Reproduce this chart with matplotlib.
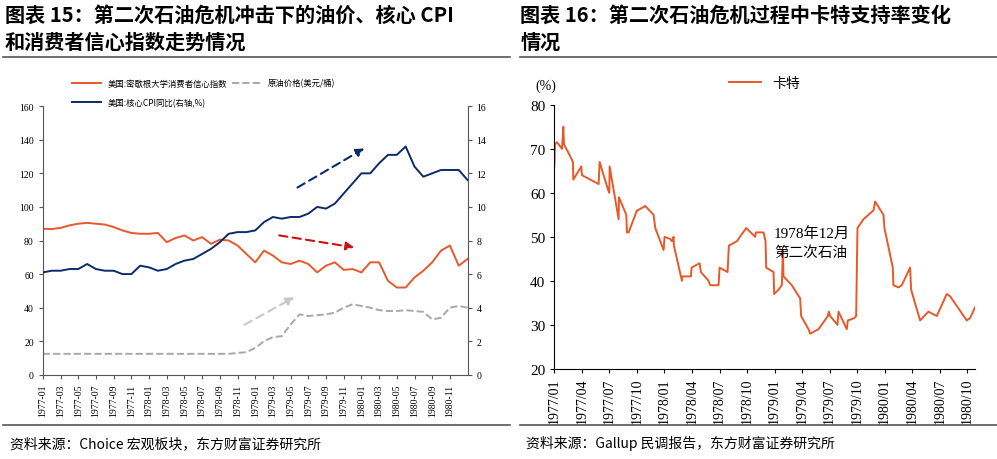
import matplotlib
matplotlib.use("Agg")
import matplotlib.pyplot as plt
import numpy as np
from matplotlib.lines import Line2D

CJK = ['Noto Sans CJK SC', 'DejaVu Sans']
SERIF = ['Liberation Serif', 'Noto Sans CJK SC']

# ---- left chart data (monthly 1977-01 .. 1981-01) ----
months_left = [f"{1977 + i // 12}-{i % 12 + 1:02d}" for i in range(49)]
sentiment = [87, 86.8, 87.5, 89, 90, 90.5, 90, 89.5, 88, 86, 84.5, 84,
             84, 84.5, 79, 81.5, 83, 80, 82, 78, 80.5, 80, 77, 72,
             67, 74, 71, 67, 66, 68, 66, 61, 65, 67, 62.5, 63,
             61, 67, 67, 56, 52, 52, 58, 62, 67, 74, 77, 65, 69]
core_cpi = [6.1, 6.2, 6.2, 6.3, 6.3, 6.6, 6.3, 6.2, 6.2, 6.0, 6.0, 6.5,
            6.4, 6.2, 6.3, 6.6, 6.8, 6.9, 7.2, 7.5, 7.9, 8.4, 8.5, 8.5,
            8.6, 9.1, 9.4, 9.3, 9.4, 9.4, 9.6, 10.0, 9.9, 10.2, 10.8, 11.4,
            12.0, 12.0, 12.6, 13.1, 13.1, 13.6, 12.4, 11.8, 12.0, 12.2, 12.2, 12.2, 11.6]
oil = [12.5] * 22 + [13, 13.5, 16, 20, 22.5, 23, 30, 36, 35, 35.5, 36, 37,
                     40, 42, 41, 40, 38.5, 38, 38, 38.5, 38, 37.5, 33, 34, 40, 41, 40]
left_ticks = months_left[:48:2]

# ---- right chart data (approval, month offset from 1977/01) ----
carter_m_raw = [162,164,170,185,189,191,205,218,219,243,245,270,295,298,322,327,328,355,356,378,380,385,
                410,412,435,460,465,490,493,510,515,520,521,545,546,572,574,598,602,625,630,655,658,682,686,
                710,738,765,767,790,796,798,820,822,835,845,848,850,875,900,903,925,930,955,983,986,990,
                1012,1015,1040,1043,1062,1068,1072,1090,1120,1125,1150,1153,1178,1180,1195,1205,1230,1233,
                1260,1285,1310,1340,1350,1400,1410,1425]
carter_v = [66,71,71.5,70,75,71,69,67,63,66,64,63,62,67,61,60,66,54,59,55,51,51,
            56,56,57,55,52,47,50,49.5,49,50,48,40,41,41,43,44,42,40,39,39,43,42,48,
            49,52,50,51,51,49,43,42,37,38,39,47,41,39,36,32,29,28,29,32,33,32,
            30,33,29,31,31.5,32,52,54,56,58,55,52,43,39,38.5,39,43,38,
            31,33,32,37,36.5,31,31.5,34]
carter_months = [(x - 162) / 27.55 for x in carter_m_raw]
right_ticks = [f"{1977 + i // 12}/{i % 12 + 1:02d}" for i in range(0, 48, 3)]

ORANGE = '#E8582A'
NAVY = '#0D2A6B'
GREY = '#A8A8A8'

fig = plt.figure(figsize=(9.97, 4.60), dpi=100)

fig.text(0.005, 0.99, "图表 15：第二次石油危机冲击下的油价、核心 CPI\n和消费者信心指数走势情况",
         family=CJK, fontsize=14.5, fontweight='bold', va='top', ha='left', linespacing=1.35)
fig.text(0.522, 0.99, "图表 16：第二次石油危机过程中卡特支持率变化\n情况",
         family=CJK, fontsize=14.5, fontweight='bold', va='top', ha='left', linespacing=1.35)
fig.add_artist(Line2D([0.003, 0.512], [0.873, 0.873], color='#555555', lw=1.2))
fig.add_artist(Line2D([0.522, 1.0], [0.873, 0.873], color='#555555', lw=1.2))
fig.add_artist(Line2D([0.003, 0.512], [0.074, 0.074], color='#555555', lw=1.2))
fig.add_artist(Line2D([0.522, 1.0], [0.074, 0.074], color='#555555', lw=1.2))
fig.text(0.01, 0.035, "资料来源：Choice 宏观板块，东方财富证券研究所", family=CJK, fontsize=10, va='center')
fig.text(0.528, 0.035, "资料来源：Gallup 民调报告，东方财富证券研究所", family=CJK, fontsize=10, va='center')

# ---- left axes ----
ax = fig.add_axes([0.043, 0.183, 0.426, 0.584])
x = np.arange(len(months_left))
ax.plot(x, sentiment, color=ORANGE, lw=1.4, label="美国:密歇根大学消费者信心指数")
ax.plot(x, oil, color=GREY, lw=1.4, ls='--', label="原油价格(美元/桶)")
ax.set_ylim(0, 160)
ax.set_yticks(range(0, 161, 20))
ax.set_xlim(0, 48)
ax.set_xticks(range(0, 48, 2))
ax.set_xticklabels(left_ticks, rotation=90, fontsize=6.5, family=SERIF)
ax2 = ax.twinx()
ax2.plot(x, core_cpi, color=NAVY, lw=1.4, label="美国:核心CPI同比(右轴,%)")
ax2.set_ylim(0, 16)
ax2.set_yticks(range(0, 17, 2))
for a in (ax, ax2):
    a.spines['top'].set_visible(False)
    for s in ['left', 'right', 'bottom']:
        a.spines[s].set_color('#555555')
    a.tick_params(labelsize=7, length=3, color='#555555')
    for t in a.get_yticklabels():
        t.set_family(SERIF)
ax.spines['right'].set_visible(False)
ax2.spines['left'].set_visible(False)
ax2.spines['bottom'].set_visible(False)
h1, l1 = ax.get_legend_handles_labels()
h2, l2 = ax2.get_legend_handles_labels()
handles = [h1[0], h2[0], h1[1]]
labels = [l1[0], l2[0], l1[1]]
ax.legend(handles, labels, ncol=2, loc='lower left', bbox_to_anchor=(0.05, 0.97),
          frameon=False, prop={'family': CJK, 'size': 6}, handlelength=3.5,
          columnspacing=0.6, labelspacing=1.2)
for (x0, y0, x1, y1, c) in [(28.5, 110.7, 36.6, 135.7, NAVY), (26.4, 83.3, 35.5, 75.6, '#CC1111'),
                            (22.5, 29, 28.7, 47, '#C8C8C8')]:
    ax.annotate("", xy=(x1, y1), xytext=(x0, y0),
                arrowprops=dict(arrowstyle='-|>', ls=(0, (4, 2.5)), color=c, lw=1.5,
                                mutation_scale=12))

# ---- right axes ----
bx = fig.add_axes([0.556, 0.196, 0.422, 0.574])
bx.plot(carter_months, carter_v, color=ORANGE, lw=1.4, label="卡特")
bx.set_ylim(20, 80)
bx.set_xlim(0, (1425 - 162) / 27.55)
bx.set_yticks(range(20, 81, 10))
bx.set_xticks(range(0, 48, 3))
bx.set_xticklabels(right_ticks, rotation=90, fontsize=10, family=SERIF)
for t in bx.get_yticklabels():
    t.set_family(SERIF)
bx.tick_params(axis='y', labelsize=11, length=3)
bx.tick_params(axis='x', length=3)
bx.spines['top'].set_visible(False)
bx.spines['right'].set_visible(False)
bx.text(-0.02, 1.06, "(%)", transform=bx.transAxes, family=SERIF, fontsize=10, ha='center')
bx.legend(loc='lower center', bbox_to_anchor=(0.5, 1.01), frameon=False,
          prop={'family': CJK, 'size': 10}, handlelength=2.3)
bx.text(28, 50.8, "1978年12月", family=SERIF, fontsize=11, ha='center', va='center')
bx.text(28, 46.5, "第二次石油", family=CJK, fontsize=10.5, ha='center', va='center')

fig.savefig("out.png", dpi=100)
